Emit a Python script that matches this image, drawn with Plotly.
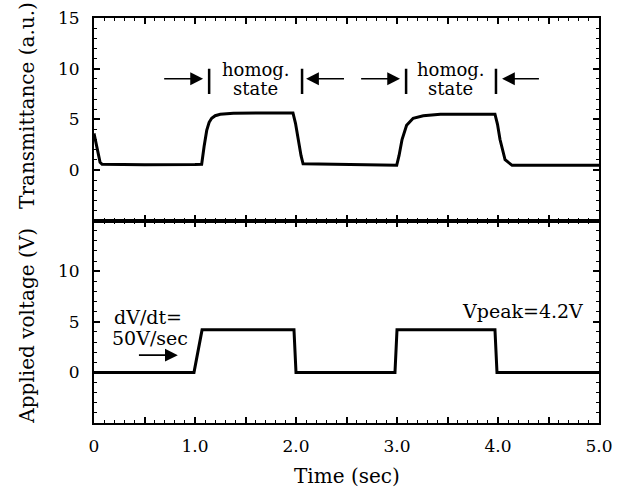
import plotly.graph_objects as go

# ---- data ----
t_trans = [0.0, 0.02, 0.04, 0.06, 0.08, 0.5, 1.0, 1.066, 1.09, 1.116, 1.14, 1.165, 1.2, 1.25, 1.38, 1.6, 1.97,
           1.995, 2.02, 2.05, 2.07, 2.5, 2.997, 3.02, 3.05, 3.095, 3.16, 3.26, 3.43, 3.7, 3.97,
           3.995, 4.02, 4.07, 4.14, 4.5, 5.0]
trans = [3.6, 2.6, 1.4, 0.75, 0.55, 0.5, 0.52, 0.55, 2.3, 3.9, 4.7, 5.1, 5.35, 5.5, 5.6, 5.62, 5.62,
         4.6, 3.0, 1.4, 0.6, 0.5, 0.45, 1.4, 3.0, 4.4, 5.1, 5.35, 5.49, 5.5, 5.5,
         4.5, 3.0, 1.0, 0.45, 0.45, 0.45]

t_volt = [0.0, 0.99, 1.07, 1.98, 2.0, 2.98, 3.0, 3.97, 3.99, 5.0]
volt = [0.0, 0.0, 4.2, 4.2, 0.0, 0.0, 4.2, 4.2, 0.0, 0.0]

x_tickvals = [0, 0.5, 1, 1.5, 2, 2.5, 3, 3.5, 4, 4.5, 5]
x_ticktext = ["0", "", "1.0", "", "2.0", "", "3.0", "", "4.0", "", "5.0"]
y_top_tickvals = [-5, 0, 5, 10, 15]
y_top_ticktext = ["", "0", "5", "10", "15"]
y_bot_tickvals = [-5, 0, 5, 10, 15]
y_bot_ticktext = ["", "0", "5", "10", ""]

FONT = "DejaVu Serif"

fig = go.Figure()
fig.add_trace(go.Scatter(x=t_trans, y=trans, mode="lines", line=dict(color="black", width=3),
                         xaxis="x", yaxis="y", showlegend=False))
fig.add_trace(go.Scatter(x=t_volt, y=volt, mode="lines", line=dict(color="black", width=3),
                         xaxis="x2", yaxis="y2", showlegend=False))

axis_common = dict(showgrid=False, zeroline=False, showline=True, linecolor="black", linewidth=2,
                   mirror="ticks", ticks="inside", ticklen=6, tickwidth=1.5, tickcolor="black",
                   tickfont=dict(family=FONT, size=17, color="black"))

fig.update_layout(
    width=621, height=487,
    margin=dict(l=94, r=22, t=18, b=64, autoexpand=False),
    plot_bgcolor="white", paper_bgcolor="white",
    font=dict(family=FONT, color="black"),
    xaxis=dict(domain=[0, 1], anchor="y", range=[0, 5], tickvals=x_tickvals, showticklabels=False,
               minor=dict(dtick=0.1, ticks="inside", ticklen=3, tickcolor="black", tickwidth=1),
               **axis_common),
    yaxis=dict(domain=[0.5, 1], anchor="x", range=[-5, 15], tickvals=y_top_tickvals,
               ticktext=y_top_ticktext, ticklabelstandoff=9,
               minor=dict(dtick=1, ticks="inside", ticklen=3, tickcolor="black", tickwidth=1),
               **axis_common),
    xaxis2=dict(domain=[0, 1], anchor="y2", range=[0, 5], tickvals=x_tickvals, ticktext=x_ticktext,
                ticklabelstandoff=7,
                minor=dict(dtick=0.1, ticks="inside", ticklen=3, tickcolor="black", tickwidth=1),
                **axis_common),
    yaxis2=dict(domain=[0, 0.5], anchor="x2", range=[-5, 15], tickvals=y_bot_tickvals,
                ticktext=y_bot_ticktext, ticklabelstandoff=9,
                minor=dict(dtick=1, ticks="inside", ticklen=3, tickcolor="black", tickwidth=1),
                **axis_common),
)

annots = []
# axis titles
annots.append(dict(text="Transmittance (a.u.)", xref="paper", yref="paper", x=-0.133, y=0.785,
                   textangle=-90, showarrow=False, font=dict(size=20, family=FONT),
                   xanchor="center", yanchor="middle"))
annots.append(dict(text="Applied voltage (V)", xref="paper", yref="paper", x=-0.133, y=0.24,
                   textangle=-90, showarrow=False, font=dict(size=20, family=FONT),
                   xanchor="center", yanchor="middle"))
annots.append(dict(text="Time (sec)", xref="paper", yref="paper", x=0.5, y=-0.13,
                   showarrow=False, font=dict(size=20, family=FONT),
                   xanchor="center", yanchor="middle"))

# homog. state labels
for xc in [1.6, 3.53]:
    annots.append(dict(text="homog.", x=xc, y=9.95, xref="x", yref="y", showarrow=False,
                       font=dict(size=18, family=FONT), xanchor="center", yanchor="middle"))
    annots.append(dict(text="state", x=xc, y=8.05, xref="x", yref="y", showarrow=False,
                       font=dict(size=18, family=FONT), xanchor="center", yanchor="middle"))

# arrows (tail -> head)
arrows_top = [((0.68, 9.0), (1.08, 9.0)), ((2.49, 9.0), (2.10, 9.0)),
              ((2.63, 9.0), (3.03, 9.0)), ((4.42, 9.0), (4.04, 9.0))]
for (tx, ty), (hx, hy) in arrows_top:
    annots.append(dict(x=hx, y=hy, ax=tx, ay=ty, xref="x", yref="y", axref="x", ayref="y",
                       text="", showarrow=True, arrowhead=2, arrowsize=1.6, arrowwidth=1.6,
                       arrowcolor="black"))
annots.append(dict(x=0.83, y=1.7, ax=0.43, ay=1.7, xref="x2", yref="y2", axref="x2", ayref="y2",
                   text="", showarrow=True, arrowhead=2, arrowsize=1.6, arrowwidth=1.6,
                   arrowcolor="black"))

annots.append(dict(text="dV/dt=", x=0.53, y=5.45, xref="x2", yref="y2", showarrow=False,
                   font=dict(size=19, family=FONT), xanchor="center", yanchor="middle"))
annots.append(dict(text="50V/sec", x=0.55, y=3.4, xref="x2", yref="y2", showarrow=False,
                   font=dict(size=19, family=FONT), xanchor="center", yanchor="middle"))
annots.append(dict(text="Vpeak=4.2V", x=4.86, y=6.1, xref="x2", yref="y2", showarrow=False,
                   font=dict(size=19, family=FONT), xanchor="right", yanchor="middle"))

fig.update_layout(annotations=annots)

# vertical bars around "homog. state"
for xb in [1.14, 2.06, 3.09, 3.98]:
    fig.add_shape(type="line", x0=xb, x1=xb, y0=7.5, y1=10.0, xref="x", yref="y",
                  line=dict(color="black", width=2.5))

fig.write_html("out.html", config={"displayModeBar": False},
               post_script="document.body.style.margin='0';document.body.style.padding='0';")
